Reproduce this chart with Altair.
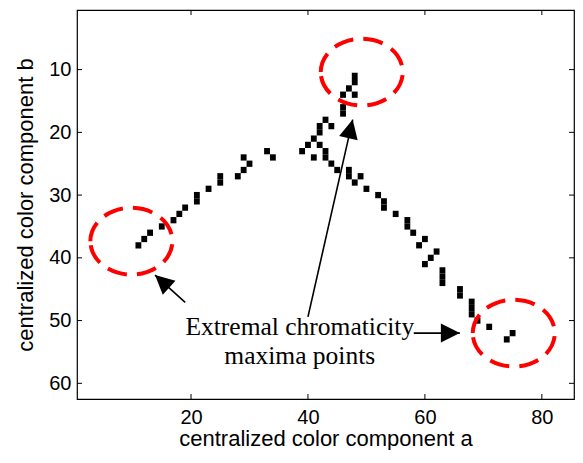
import altair as alt
import pandas as pd

# ---- data (pixel cells of the binary image) ----
pts_a = [11, 12, 13, 15, 17, 18, 19, 21, 21, 23, 25, 25, 28, 29, 30, 29, 33, 34,
         39, 40, 41, 42, 42, 42, 41, 43, 44, 43, 43, 44, 45, 47, 47, 49, 48, 50,
         52, 53, 53, 55, 57, 57, 58, 60, 59, 62, 61, 60, 63, 63, 63, 66, 66, 68,
         68, 68, 69, 71, 75, 74,
         48, 48, 47, 48, 46, 46, 46]
pts_b = [38, 37, 36, 35, 34, 33, 32, 30, 31, 29, 27, 28, 27, 26, 25, 24, 23, 24,
         23, 22, 21, 19, 20, 22, 24, 18, 19, 23, 24, 25, 26, 26, 27, 27, 28, 29,
         30, 31, 32, 33, 34, 35, 36, 37, 38, 39, 40, 41, 42, 43, 44, 45, 46, 47,
         48, 49, 50, 51, 52, 53,
         11, 12, 13, 14, 14, 16, 17]

x_ticks = [20, 40, 60, 80]
y_ticks = [10, 20, 30, 40, 50, 60]

# highlight ellipses (centres in data units)
ell_a = [9.8, 49.2, 75.2]
ell_b = [37.35, 10.4, 52.0]

# arrows: tail -> tip (data units) and heading angle
arr_tail_a = [19.0, 40.0, 58.1]
arr_tail_b = [47.1, 49.4, 52.0]
arr_tip_a = [13.84, 47.65, 65.98]
arr_tip_b = [42.75, 17.97, 52.0]
arr_angle = [312, 13, 90]

note_lines = ["Extremal chromaticity", "maxima points"]
note_a = [38.6, 38.6]
note_b = [52.3, 57.0]

W, H = 497, 389

xs = alt.Scale(domain=[0.5, 85.5], nice=False, zero=False)
ys = alt.Scale(domain=[0.5, 62.5], nice=False, zero=False, reverse=True)

x_axis = alt.Axis(values=x_ticks, title="centralized color component a", grid=False,
                  ticks=False, domain=False, labelPadding=8,
                  titleBaseline="alphabetic", titleY=46)
y_axis = alt.Axis(values=y_ticks, title="centralized color component b", grid=False,
                  ticks=False, domain=False, labelPadding=6, titlePadding=11)

df = pd.DataFrame({"a": pts_a, "b": pts_b})
pixels = alt.Chart(df).transform_calculate(
    a0="datum.a - 0.5", a1="datum.a + 0.5", b0="datum.b - 0.5", b1="datum.b + 0.5"
).mark_rect(color="black").encode(
    x=alt.X("a0:Q", scale=xs, axis=x_axis),
    x2="a1:Q",
    y=alt.Y("b0:Q", scale=ys, axis=y_axis),
    y2="b1:Q",
)

xt = pd.DataFrame({"a0": x_ticks})
yt = pd.DataFrame({"b0": y_ticks})
tick_bottom = alt.Chart(xt).mark_rule(color="black").encode(
    x=alt.X("a0:Q", scale=xs, axis=x_axis), y=alt.value(H), y2=alt.value(H - 5))
tick_top = alt.Chart(xt).mark_rule(color="black").encode(
    x=alt.X("a0:Q", scale=xs, axis=x_axis), y=alt.value(0), y2=alt.value(5))
tick_left = alt.Chart(yt).mark_rule(color="black").encode(
    y=alt.Y("b0:Q", scale=ys, axis=y_axis), x=alt.value(0), x2=alt.value(5))
tick_right = alt.Chart(yt).mark_rule(color="black").encode(
    y=alt.Y("b0:Q", scale=ys, axis=y_axis), x=alt.value(W - 5), x2=alt.value(W))

ELL = ("M -1 0 C -1 -0.45 -0.552 -0.815 0 -0.815 C 0.552 -0.815 1 -0.45 1 0 "
       "C 1 0.45 0.552 0.815 0 0.815 C -0.552 0.815 -1 0.45 -1 0 Z")
ell_df = pd.DataFrame({"a0": ell_a, "b0": ell_b})
ellipses = alt.Chart(ell_df).mark_point(
    shape=ELL, size=6724, filled=False, stroke="#ff0000", strokeWidth=4,
    strokeDash=[20, 10], opacity=1
).encode(x=alt.X("a0:Q", scale=xs, axis=x_axis), y=alt.Y("b0:Q", scale=ys, axis=y_axis))

rows = []
for i in range(len(arr_tail_a)):
    rows.append({"id": i, "ord": 0, "a0": arr_tail_a[i], "b0": arr_tail_b[i]})
    rows.append({"id": i, "ord": 1, "a0": arr_tip_a[i], "b0": arr_tip_b[i]})
shafts = alt.Chart(pd.DataFrame(rows)).mark_line(color="black", strokeWidth=1.6).encode(
    x=alt.X("a0:Q", scale=xs, axis=x_axis), y=alt.Y("b0:Q", scale=ys, axis=y_axis),
    detail="id:N", order="ord:Q")

HEAD = "M 0 0 L -0.5 1 L 0.5 1 Z"
head_df = pd.DataFrame({"a0": arr_tip_a, "b0": arr_tip_b, "ang": arr_angle})
heads = alt.Chart(head_df).mark_point(
    shape=HEAD, size=1444, filled=True, color="black", opacity=1, strokeWidth=0
).encode(x=alt.X("a0:Q", scale=xs, axis=x_axis), y=alt.Y("b0:Q", scale=ys, axis=y_axis),
         angle=alt.Angle("ang:Q", scale=None))

note_df = pd.DataFrame({"a0": note_a, "b0": note_b, "t": note_lines})
note = alt.Chart(note_df).mark_text(
    font="Liberation Serif", fontSize=25.5, align="center", baseline="alphabetic", color="black"
).encode(x=alt.X("a0:Q", scale=xs, axis=x_axis), y=alt.Y("b0:Q", scale=ys, axis=y_axis),
         text="t:N")

chart = alt.layer(pixels, ellipses, shafts, heads, note,
                  tick_bottom, tick_top, tick_left, tick_right).properties(
    width=W, height=H,
    autosize=alt.AutoSizeParams(type="none"),
    padding={"left": 69, "top": 2, "right": 1, "bottom": 51},
    background="white",
).configure_view(stroke="black", strokeWidth=1.2).configure_axis(
    labelFont="Liberation Sans", labelFontSize=20, labelColor="black",
    titleFont="Liberation Sans", titleFontSize=22, titleFontWeight="normal", titleColor="black",
)

chart.save("out.html", embed_options={"renderer": "svg", "actions": False})
